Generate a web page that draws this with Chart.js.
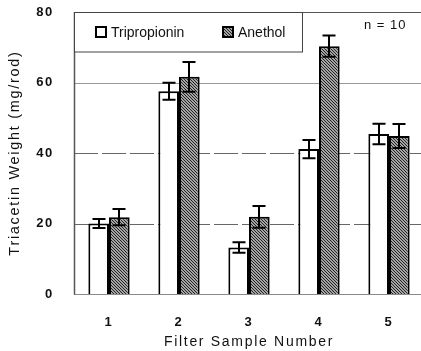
<!DOCTYPE html>
<html><head><meta charset="utf-8">
<script src="https://cdn.jsdelivr.net/npm/chart.js@4.4.0/dist/chart.umd.min.js"></script>
<style>html,body{margin:0;padding:0;overflow:hidden;background:#fff}</style>
</head><body>
<canvas id="c" width="430" height="351" style="display:block;width:430px;height:351px"></canvas>
<script>
const categories = ['1', '2', '3', '4', '5'];
const tripropionin = [20.0, 57.5, 13.2, 41.1, 45.4];
const tripropioninErr = [1.3, 2.4, 1.5, 2.6, 2.9];
const anethol = [21.8, 61.6, 21.9, 70.3, 44.8];
const anetholErr = [2.3, 4.2, 3.1, 3.0, 3.4];
const yTicks = [0, 20, 40, 60, 80];
const seriesNames = ['Tripropionin', 'Anethol'];
const note = 'n = 10';
const xTitle = 'Filter Sample Number';
const yTitle = 'Triacetin Weight (mg/rod)';

const canvas = document.getElementById('c');
const ctx0 = canvas.getContext('2d');
const hatch = (() => {
  const c = document.createElement('canvas'); c.width = 3; c.height = 3;
  const g = c.getContext('2d');
  g.fillStyle = '#a4a4a4'; g.fillRect(0, 0, 3, 3);
  g.fillStyle = '#222222';
  for (let i = 0; i < 3; i++) g.fillRect(i, i, 1, 1);
  return ctx0.createPattern(c, 'repeat');
})();

const errs = [tripropioninErr, anetholErr];
const FONT = '"Liberation Sans", Arial, sans-serif';

const spacingPlugin = {
  id: 'spacing',
  beforeDraw(chart) { chart.ctx.letterSpacing = '1.7px'; },
  afterDraw(chart) { chart.ctx.letterSpacing = '0px'; }
};

const gridPlugin = {
  id: 'grid',
  beforeDatasetsDraw(chart) {
    const { ctx, chartArea: a, scales: { y } } = chart;
    ctx.save();
    ctx.letterSpacing = '0px';
    yTicks.forEach(v => {
      const py = Math.round(y.getPixelForValue(v)) + 0.5;
      ctx.beginPath();
      if (v === 0) { ctx.strokeStyle = '#8a8a8a'; ctx.setLineDash([]); ctx.lineWidth = 1; }
      else if (v === 80) { ctx.strokeStyle = '#555'; ctx.setLineDash([]); ctx.lineWidth = 1; }
      else if (v === 60) { ctx.strokeStyle = '#9a9a9a'; ctx.setLineDash([]); ctx.lineWidth = 1; }
      else { ctx.strokeStyle = '#666'; ctx.setLineDash([24, 4]); ctx.lineWidth = 1; }
      ctx.moveTo(a.left, py); ctx.lineTo(a.right, py); ctx.stroke();
    });
    ctx.setLineDash([]);
    ctx.strokeStyle = '#555'; ctx.lineWidth = 1.5;
    ctx.beginPath();
    ctx.moveTo(a.left + 0.5, a.top); ctx.lineTo(a.left + 0.5, a.bottom + 0.5); ctx.stroke();
    ctx.restore();
  }
};

const errPlugin = {
  id: 'errbars',
  afterDatasetsDraw(chart) {
    const { ctx, scales: { y } } = chart;
    ctx.save();
    ctx.strokeStyle = '#000'; ctx.lineWidth = 2; ctx.setLineDash([]);
    chart.data.datasets.forEach((ds, di) => {
      const meta = chart.getDatasetMeta(di);
      meta.data.forEach((bar, i) => {
        const v = ds.data[i], e = errs[di][i];
        const x = Math.round(bar.x);
        const yt = y.getPixelForValue(v + e), yb = y.getPixelForValue(v - e);
        const cw = 6.5;
        ctx.beginPath();
        ctx.moveTo(x, yt); ctx.lineTo(x, yb);
        ctx.moveTo(x - cw, yt); ctx.lineTo(x + cw, yt);
        ctx.moveTo(x - cw, yb); ctx.lineTo(x + cw, yb);
        ctx.stroke();
      });
    });
    ctx.restore();
  }
};

const legendPlugin = {
  id: 'boxLegend',
  afterDatasetsDraw(chart) {
    const { ctx, chartArea: a } = chart;
    ctx.save();
    ctx.letterSpacing = '0px';
    const x0 = a.left, y0 = a.top, x1 = 302.5, y1 = 51.5;
    ctx.fillStyle = '#fff';
    ctx.fillRect(x0 + 1, y0 + 1, x1 - x0 - 1, y1 - y0 - 1);
    ctx.strokeStyle = '#444'; ctx.lineWidth = 1;
    ctx.strokeRect(x0 + 0.5, y0 + 0.5, x1 - x0 - 0.5, y1 - y0);
    const items = [{ bx: 96, tx: 111 }, { bx: 223, tx: 238 }];
    ctx.font = '14px ' + FONT;
    ctx.textBaseline = 'alphabetic';
    ctx.textAlign = 'left';
    chart.data.datasets.forEach((ds, i) => {
      const it = items[i];
      ctx.fillStyle = ds.backgroundColor;
      ctx.fillRect(it.bx, 27, 10, 10);
      ctx.strokeStyle = '#000'; ctx.lineWidth = 2;
      ctx.strokeRect(it.bx, 27, 10, 10);
      ctx.fillStyle = '#111';
      ctx.fillText(ds.label, it.tx, 37);
    });
    ctx.font = '13px ' + FONT;
    ctx.letterSpacing = '1px';
    ctx.fillText(note, 364, 29);
    ctx.restore();
  }
};

new Chart(canvas, {
  type: 'bar',
  data: {
    labels: categories,
    datasets: [
      { label: seriesNames[0], data: tripropionin, backgroundColor: '#ffffff', borderColor: '#000', borderWidth: 2 },
      { label: seriesNames[1], data: anethol, backgroundColor: hatch, borderColor: '#000', borderWidth: 2 }
    ]
  },
  options: {
    responsive: false,
    animation: false,
    devicePixelRatio: 1,
    categoryPercentage: 0.59,
    barPercentage: 1.0,
    layout: { padding: { top: 12, right: 6, left: 0, bottom: 0 } },
    plugins: { legend: { display: false }, tooltip: { enabled: false } },
    scales: {
      x: {
        grid: { display: false },
        border: { display: false },
        ticks: { color: '#111', padding: 13, font: { family: FONT, size: 13, weight: 'bold' } },
        title: { display: true, text: xTitle, color: '#111', padding: { top: 0, bottom: 0 }, font: { family: FONT, size: 14 } },
        afterFit(s) { s.height = 57; s.paddingLeft = 0; s.paddingRight = 0; }
      },
      y: {
        min: 0, max: 80,
        afterBuildTicks(s) { s.ticks = yTicks.map(v => ({ value: v })); },
        grid: { display: false },
        border: { display: false },
        ticks: { color: '#111', padding: 12, font: { family: FONT, size: 13, weight: 'bold' } },
        title: { display: true, text: yTitle, color: '#111', padding: { top: 6, bottom: 0 }, font: { family: FONT, size: 14.5 } },
        afterFit(s) { s.width = 74; s.paddingTop = 0; s.paddingBottom = 0; }
      }
    }
  },
  plugins: [spacingPlugin, gridPlugin, errPlugin, legendPlugin]
});
</script>
</body></html>
